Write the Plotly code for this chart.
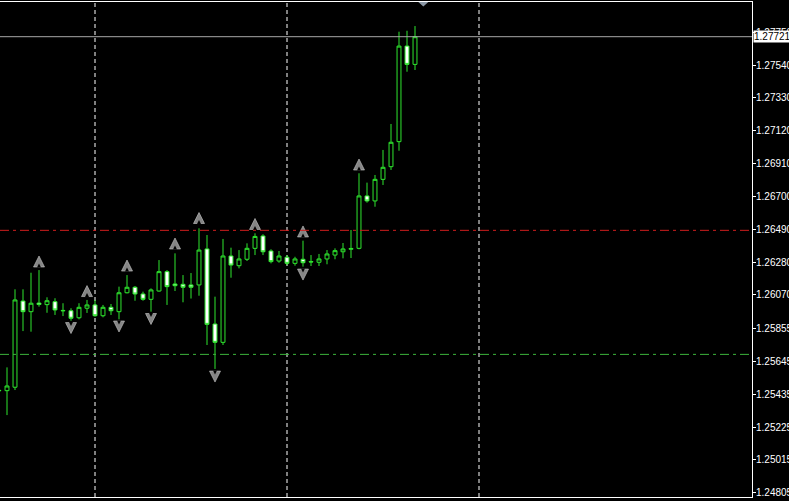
import plotly.graph_objects as go

# ---------------- data ----------------
bar_index = list(range(-1, 52))
open_ = [1.25460, 1.25458, 1.25480, 1.26031, 1.25963, 1.26018, 1.26008, 1.26027, 1.25971, 1.25969,
         1.25924, 1.25985, 1.26006, 1.25937, 1.25991, 1.25963, 1.26084, 1.26119, 1.26076, 1.26042,
         1.26095, 1.26219, 1.26140, 1.26138, 1.26134, 1.26134, 1.26364, 1.25884, 1.25767, 1.26319,
         1.26257, 1.26298, 1.26368, 1.26447, 1.26351, 1.26287, 1.26311, 1.26272, 1.26298, 1.26284,
         1.26279, 1.26300, 1.26325, 1.26346, 1.26362, 1.26368, 1.26703, 1.26671, 1.26809, 1.26890,
         1.27050, 1.27661, 1.27544]
high = [1.25470, 1.25607, 1.26106, 1.26106, 1.26212, 1.26229, 1.26055, 1.26049, 1.26017, 1.25985,
        1.26017, 1.26038, 1.26038, 1.26006, 1.26012, 1.26123, 1.26197, 1.26127, 1.26091, 1.26112,
        1.26293, 1.26229, 1.26336, 1.26197, 1.26210, 1.26496, 1.26453, 1.26059, 1.26428, 1.26372,
        1.26357, 1.26400, 1.26464, 1.26458, 1.26362, 1.26351, 1.26325, 1.26314, 1.26417, 1.26325,
        1.26332, 1.26357, 1.26368, 1.26402, 1.26485, 1.26848, 1.26788, 1.26837, 1.26997, 1.27163,
        1.27753, 1.27759, 1.27789]
low = [1.25445, 1.25302, 1.25462, 1.25839, 1.25835, 1.25995, 1.25956, 1.25942, 1.25935, 1.25905,
       1.25914, 1.25955, 1.25931, 1.25927, 1.25942, 1.25914, 1.26080, 1.26033, 1.26033, 1.25963,
       1.26091, 1.26006, 1.26095, 1.26023, 1.26047, 1.26065, 1.25750, 1.25597, 1.25750, 1.26180,
       1.26240, 1.26287, 1.26325, 1.26325, 1.26272, 1.26276, 1.26261, 1.26257, 1.26251, 1.26255,
       1.26255, 1.26266, 1.26298, 1.26304, 1.26306, 1.26362, 1.26660, 1.26634, 1.26773, 1.26869,
       1.26992, 1.27497, 1.27508]
close = [1.25458, 1.25488, 1.26038, 1.25963, 1.26017, 1.26009, 1.26033, 1.25974, 1.25969, 1.25921,
         1.25991, 1.26006, 1.25937, 1.25991, 1.25969, 1.26084, 1.26119, 1.26076, 1.26042, 1.26102,
         1.26219, 1.26123, 1.26129, 1.26119, 1.26119, 1.26357, 1.25882, 1.25767, 1.26319, 1.26261,
         1.26300, 1.26368, 1.26444, 1.26346, 1.26283, 1.26319, 1.26272, 1.26300, 1.26276, 1.26281,
         1.26300, 1.26332, 1.26353, 1.26364, 1.26367, 1.26703, 1.26671, 1.26809, 1.26886, 1.27046,
         1.27661, 1.27544, 1.27721]

fractal_up_index = [4, 10, 15, 21, 24, 31, 37, 44]
fractal_up_price = [1.26287, 1.26098, 1.26261, 1.26402, 1.26565, 1.26527, 1.26479, 1.26907]
fractal_down_index = [8, 14, 18, 26, 37]
fractal_down_price = [1.25855, 1.25865, 1.25913, 1.25545, 1.26197]

resistance_level = 1.26483
support_level = 1.25690
bid_price = 1.27721
bid_label = "1.27721"

price_ticks = [1.27750, 1.27540, 1.27330, 1.27120, 1.26910, 1.26700, 1.26490, 1.26280,
               1.26070, 1.25855, 1.25645, 1.25435, 1.25225, 1.25015, 1.24805]
grid_bars = [11, 35, 59]
chart_shift_bar = 52.04

# ---------------- style ----------------
W, H = 789, 501
M_L, M_R, M_T, M_B = 0, 37, 2, 4
PLOT_H = H - M_T - M_B
Y_MIN, Y_MAX = 1.247782, 1.279428
X_MIN, X_MAX = -0.875, 93.125
PPP = (Y_MAX - Y_MIN) / PLOT_H  # price per pixel

CANDLE = "#2ee62e"
ARROW = "#858585"
FONT = "Liberation Sans"

fig = go.Figure()

fig.add_trace(go.Candlestick(
    x=bar_index, open=open_, high=high, low=low, close=close,
    increasing=dict(line=dict(color=CANDLE, width=1), fillcolor="#000000"),
    decreasing=dict(line=dict(color=CANDLE, width=1), fillcolor="#ffffff"),
    whiskerwidth=0, hoverinfo="skip", showlegend=False,
))

# fractal arrows (tip placed half an arrow away from the stored centre)
up_tips = [p + 5 * PPP for p in fractal_up_price]
dn_tips = [p - 5 * PPP for p in fractal_down_price]
fig.add_trace(go.Scatter(x=fractal_up_index, y=up_tips, mode="markers",
                         marker=dict(symbol="arrow-up", size=11, color=ARROW,
                                     line=dict(width=0.6, color="#c8c8c8")),
                         hoverinfo="skip", showlegend=False))
fig.add_trace(go.Scatter(x=fractal_up_index, y=[t - 7.5 * PPP for t in up_tips], mode="markers",
                         marker=dict(symbol="arrow-up", size=4, color="#000000", line=dict(width=0)),
                         hoverinfo="skip", showlegend=False))
fig.add_trace(go.Scatter(x=fractal_down_index, y=dn_tips, mode="markers",
                         marker=dict(symbol="arrow-down", size=11, color=ARROW,
                                     line=dict(width=0.6, color="#c8c8c8")),
                         hoverinfo="skip", showlegend=False))
fig.add_trace(go.Scatter(x=fractal_down_index, y=[t + 7.5 * PPP for t in dn_tips], mode="markers",
                         marker=dict(symbol="arrow-down", size=4, color="#000000", line=dict(width=0)),
                         hoverinfo="skip", showlegend=False))

shapes = []
for g in grid_bars:
    shapes.append(dict(type="line", xref="x", yref="paper", x0=g, x1=g, y0=0, y1=1,
                       line=dict(color="#ffffff", width=1, dash="4px,3px"), layer="below"))
shapes.append(dict(type="line", xref="paper", yref="y", x0=0, x1=1,
                   y0=resistance_level, y1=resistance_level,
                   line=dict(color="#d01e1e", width=1, dash="9px,4px,3px,4px")))
shapes.append(dict(type="line", xref="paper", yref="y", x0=0, x1=1,
                   y0=support_level, y1=support_level,
                   line=dict(color="#3cb43c", width=1, dash="9px,4px,3px,4px")))
shapes.append(dict(type="line", xref="paper", yref="y", x0=0, x1=1,
                   y0=bid_price, y1=bid_price,
                   line=dict(color="#a8a8a8", width=1)))
# chart-shift marker at the top
tri_w = 0.625
tri_h = 4.5 / PLOT_H
shapes.append(dict(type="path", xref="x", yref="paper",
                   path=f"M {chart_shift_bar - tri_w},1 L {chart_shift_bar + tri_w},1 "
                        f"L {chart_shift_bar},{1 - tri_h} Z",
                   fillcolor="#8a96a4", line=dict(width=0)))

fig.update_layout(
    width=W, height=H,
    margin=dict(l=M_L, r=M_R, t=M_T, b=M_B, autoexpand=False),
    paper_bgcolor="#000000", plot_bgcolor="#000000",
    showlegend=False, hovermode=False,
    boxgap=0.3,
    shapes=shapes,
    xaxis=dict(range=[X_MIN, X_MAX], showgrid=False, zeroline=False, showticklabels=False,
               ticks="", showline=True, mirror=True, linecolor="#ffffff", linewidth=1,
               rangeslider=dict(visible=False), fixedrange=True, automargin=False),
    yaxis=dict(range=[Y_MIN, Y_MAX], side="right", tickvals=price_ticks, tickformat=".5f",
               ticks="outside", ticklen=3, tickcolor="#ffffff", tickwidth=1,
               ticklabelstandoff=-2,
               tickfont=dict(family=FONT, size=10, color="#ffffff"),
               showgrid=False, zeroline=False, showline=True, linecolor="#ffffff",
               linewidth=1, fixedrange=True, automargin=False),
    annotations=[dict(xref="paper", yref="y", x=1, y=bid_price, xanchor="left", yanchor="middle",
                      xshift=1, text=bid_label, showarrow=False, bgcolor="#ffffff",
                      font=dict(family=FONT, size=10, color="#000000"),
                      borderpad=0, width=40, height=11, align="left")],
)

fig.write_html(
    "out.html",
    config={"displayModeBar": False, "staticPlot": True},
    post_script="document.body.style.margin='0';document.body.style.overflow='hidden';",
)
